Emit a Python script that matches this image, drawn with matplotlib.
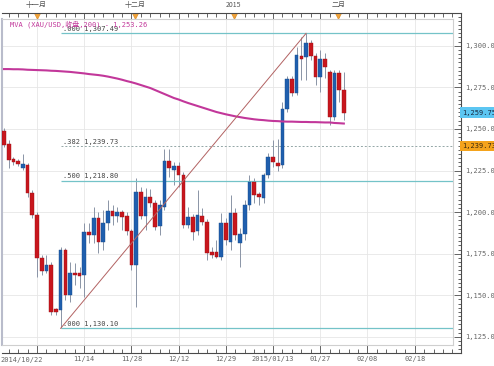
import matplotlib
matplotlib.use("Agg")
import matplotlib.pyplot as plt
import matplotlib.transforms as mtransforms
from matplotlib.ticker import FixedLocator, FuncFormatter, MultipleLocator
import numpy as np

# daily XAU/USD candles, 2014/10/22 .. 2015/02/03, one entry per trading day
opens = [1248.8, 1241.0, 1231.9, 1230.7, 1226.5, 1228.3, 1211.5, 1198.3, 1172.4, 1164.6,
         1168.2, 1141.8, 1141.2, 1177.2, 1150.2, 1163.4, 1163.4, 1162.2, 1188.0, 1186.2,
         1196.5, 1182.0, 1193.5, 1200.7, 1197.7, 1200.1, 1197.7, 1188.6, 1168.2, 1212.1,
         1197.7, 1209.1, 1205.5, 1191.6, 1203.1, 1230.7, 1225.3, 1227.7, 1222.3, 1192.3,
         1197.1, 1188.6, 1197.7, 1194.1, 1176.0, 1176.0, 1173.0, 1193.5, 1182.0, 1199.5,
         1181.4, 1186.8, 1204.3, 1218.1, 1210.9, 1208.5, 1222.3, 1233.1, 1229.5, 1228.3,
         1262.0, 1280.0, 1271.6, 1293.9, 1293.3, 1301.7, 1293.9, 1281.2, 1292.1, 1284.2,
         1257.2, 1283.6, 1273.4]
highs = [1250.6, 1243.4, 1233.1, 1232.0, 1234.9, 1229.5, 1213.3, 1200.1, 1174.2, 1174.2,
         1170.0, 1142.4, 1179.0, 1178.4, 1170.0, 1169.4, 1167.0, 1193.5, 1193.5, 1203.1,
         1200.1, 1201.3, 1207.3, 1204.3, 1203.1, 1201.3, 1200.1, 1189.8, 1220.5, 1215.1,
         1214.5, 1213.9, 1207.3, 1207.3, 1237.9, 1237.9, 1230.1, 1230.1, 1224.1, 1203.1,
         1199.0, 1213.3, 1202.5, 1195.9, 1179.0, 1183.2, 1199.5, 1196.5, 1210.3, 1202.5,
         1190.4, 1207.3, 1222.3, 1220.5, 1212.1, 1223.5, 1235.5, 1243.4, 1244.0, 1266.2,
         1282.0, 1281.8, 1299.3, 1305.3, 1307.49, 1303.5, 1295.7, 1297.5, 1295.7, 1285.4,
         1285.4, 1285.4, 1284.2]
lows = [1239.2, 1226.5, 1228.3, 1227.7, 1225.3, 1209.1, 1196.5, 1161.0, 1162.2, 1163.4,
        1138.1, 1138.1, 1130.1, 1147.2, 1146.0, 1156.2, 1154.4, 1149.0, 1181.4, 1181.4,
        1175.4, 1177.2, 1189.2, 1192.3, 1194.1, 1189.2, 1186.2, 1165.2, 1143.0, 1195.9,
        1189.2, 1203.1, 1189.2, 1186.2, 1201.3, 1221.1, 1216.3, 1215.1, 1190.4, 1190.4,
        1183.2, 1186.2, 1192.3, 1171.2, 1172.4, 1172.4, 1171.2, 1180.2, 1177.2, 1183.2,
        1167.0, 1183.2, 1201.3, 1205.5, 1204.3, 1205.5, 1220.5, 1227.1, 1224.7, 1226.5,
        1260.0, 1269.8, 1270.4, 1279.4, 1279.4, 1291.5, 1276.4, 1272.2, 1280.6, 1252.4,
        1255.4, 1266.2, 1255.4]
closes = [1240.4, 1231.3, 1230.1, 1228.9, 1228.9, 1211.5, 1198.3, 1172.4, 1164.6, 1168.2,
          1140.0, 1140.0, 1177.2, 1150.2, 1163.4, 1162.2, 1161.6, 1188.0, 1186.2, 1196.5,
          1182.0, 1193.5, 1200.7, 1197.7, 1200.1, 1197.1, 1188.6, 1168.2, 1212.1, 1197.7,
          1209.1, 1205.5, 1191.0, 1204.3, 1230.7, 1226.5, 1227.7, 1222.3, 1192.3, 1197.1,
          1188.0, 1198.3, 1194.1, 1175.4, 1174.2, 1173.0, 1193.5, 1183.2, 1199.5, 1186.2,
          1186.8, 1204.3, 1218.1, 1210.3, 1209.1, 1222.3, 1233.1, 1230.1, 1227.7, 1262.0,
          1280.0, 1271.6, 1294.5, 1292.1, 1301.7, 1293.9, 1281.2, 1292.1, 1287.3, 1257.2,
          1283.6, 1273.4, 1259.75]
ma200 = [1286.0, 1286.0, 1285.9, 1285.9, 1285.8, 1285.6, 1285.5, 1285.4, 1285.3, 1285.2,
         1285.0, 1284.9, 1284.7, 1284.5, 1284.3, 1284.0, 1283.7, 1283.4, 1283.0, 1282.7,
         1282.4, 1282.0, 1281.5, 1280.9, 1280.3, 1279.6, 1278.8, 1278.1, 1277.3, 1276.4,
         1275.5, 1274.6, 1273.4, 1272.2, 1271.0, 1269.8, 1268.6, 1267.7, 1266.6, 1265.6,
         1264.7, 1263.8, 1262.9, 1262.0, 1261.1, 1260.2, 1259.5, 1258.8, 1258.2, 1257.6,
         1257.1, 1256.6, 1256.2, 1255.8, 1255.5, 1255.3, 1255.0, 1254.8, 1254.7, 1254.5,
         1254.4, 1254.4, 1254.3, 1254.2, 1254.2, 1254.1, 1254.1, 1254.0, 1253.9, 1253.9,
         1253.6, 1253.45, 1253.26]

date_ticks = [7, 17, 27, 37, 47, 57, 67, 77, 87]
date_labels = ["", "11/14", "11/28", "12/12", "12/29", "2015/01/13", "01/27", "02/08", "02/18"]
first_date = "2014/10/22"
month_marks = [6.9, 27.8, 48.7, 70.8]
month_labels = ["十一月", "十二月", "2015", "二月"]

fib_low, fib_high = 1130.10, 1307.49
fib_start, fib_end = 12, 64
fib_ratios = [1.0, 0.382, 0.5, 0.0]
ma_label = "MVA (XAU/USD,收盘,200) - 1,253.26"
last_price = 1259.75

# pixel geometry of the reference (494x366)
W, H = 494, 366
BAR0_X, BAR_DX = 4.0, 4.72
Y1300, PX_PER_USD = 45.8, 1.663

MONO = ["DejaVu Sans Mono", "Noto Sans CJK SC"]
CJK = ["Noto Sans CJK SC", "DejaVu Sans"]
RED, BLUE = "#c8161d", "#1f5fae"


def bar_at(x):
    return (x - BAR0_X) / BAR_DX


def price_at(y):
    return 1300 - (y - Y1300) / PX_PER_USD


def rect(x0, y0, x1, y1):
    return [x0 / W, 1 - y1 / H, (x1 - x0) / W, (y1 - y0) / H]


fig = plt.figure(figsize=(W / 100, H / 100), dpi=100)

# outer ruler frame
outer = fig.add_axes(rect(2, 13, 461, 353))
outer.set_xlim(bar_at(2), bar_at(461))
outer.set_ylim(price_at(353), price_at(13))
outer.patch.set_visible(False)
outer.spines["left"].set_visible(False)
for side in ("top", "bottom", "right"):
    outer.spines[side].set_color("#4a4a4a")
    outer.spines[side].set_linewidth(0.8)
outer.yaxis.set_major_locator(MultipleLocator(25))
outer.yaxis.set_minor_locator(MultipleLocator(2.5))
outer.yaxis.set_major_formatter(FuncFormatter(lambda v, _: f"{v:,.2f}"))
outer.tick_params(axis="y", which="both", direction="in", left=False, right=True,
                  labelleft=False, labelright=True, colors="#4a4a4a", labelcolor="#666666",
                  labelsize=5, pad=3, width=0.6)
outer.tick_params(axis="y", which="major", length=5)
outer.tick_params(axis="y", which="minor", length=2.5)
outer.xaxis.set_major_locator(FixedLocator(date_ticks))
outer.xaxis.set_minor_locator(FixedLocator(np.arange(1, 97, 2)))
outer.set_xticklabels(date_labels)
outer.tick_params(axis="x", which="both", direction="in", top=True, bottom=True,
                  colors="#4a4a4a", labelcolor="#666666", labelsize=5, pad=2, width=0.6)
outer.tick_params(axis="x", which="major", length=6)
outer.tick_params(axis="x", which="minor", length=3)
for lab in outer.get_xticklabels() + outer.get_yticklabels():
    lab.set_family(MONO)
fig.text(0.5 / W, 1 - 360 / H, first_date, ha="left", va="center",
         fontsize=5, color="#666666", family=MONO)

# month markers on the top ruler
top_tf = mtransforms.blended_transform_factory(outer.transData, outer.transAxes)
outer.plot(month_marks, [1 - 2.5 / 340] * len(month_marks), "v", color="#f2a33a",
           ms=4.5, mec="#d98a20", mew=0.4, transform=top_tf, clip_on=False)
for m, lab in zip(month_marks, month_labels):
    outer.text(m, 1 + 8.5 / 340, lab, transform=top_tf, ha="center", va="center",
               fontsize=5, color="#555555", family=CJK)

# price boxes on the right ruler
right_tf = mtransforms.blended_transform_factory(outer.transAxes, outer.transData)
fib_levels = [fib_high - r * (fib_high - fib_low) for r in fib_ratios]
outer.text(1.003, last_price, f"{last_price:,.2f}", transform=right_tf, ha="left",
           va="center", fontsize=5, family=MONO, color="#1a2a40", zorder=5,
           bbox=dict(boxstyle="square,pad=0.35", fc="#5cc6f2", ec="none"))
outer.text(1.003, fib_levels[1], f"{fib_levels[1]:,.2f}", transform=right_tf, ha="left",
           va="center", fontsize=5, family=MONO, color="#3a2a10", zorder=5,
           bbox=dict(boxstyle="square,pad=0.35", fc="#f4a31c", ec="none"))

# inner plot area
ax = fig.add_axes(rect(2, 19, 453, 345))
ax.set_xlim(bar_at(2), bar_at(453))
ax.set_ylim(price_at(345), price_at(19))
ax.set_xticks(date_ticks)
ax.set_yticks(np.arange(1125, 1301, 25))
ax.tick_params(length=0, labelbottom=False, labelleft=False)
ax.grid(color="#e6e6e6", lw=0.6)
ax.set_axisbelow(True)
for side in ("top", "bottom", "right"):
    ax.spines[side].set_color("#cfcfcf")
    ax.spines[side].set_linewidth(0.8)
ax.spines["left"].set_color("#b9bccb")
ax.spines["left"].set_linewidth(1.5)

x = np.arange(len(opens))
o = np.array(opens)
c = np.array(closes)
up = c >= o
body_lo = np.minimum(o, c)
body_h = np.maximum(np.abs(c - o), 0.6)
colors = np.where(up, BLUE, RED)
edges = np.where(up, "#174a8a", "#9c1016")
ax.vlines(x, lows, highs, color="#8a94a6", lw=0.7, zorder=2)
ax.bar(x, body_h, 0.78, bottom=body_lo, color=colors, edgecolor=edges, lw=0.3, zorder=3)

ax.plot(x, ma200, color="#c2379a", lw=1.5, zorder=4)

# fibonacci retracement
xmax = ax.get_xlim()[1]
for r, lvl in zip(fib_ratios, fib_levels):
    if r == 0.382:
        ax.hlines(lvl, fib_start, xmax, color="#93a6a6", lw=0.7, linestyles=(0, (2, 2)), zorder=2)
    else:
        ax.hlines(lvl, fib_start, xmax, color="#74c3c8", lw=0.9, zorder=2)
    ax.annotate(f"{r:.3f}"[1:] + f" {lvl:,.2f}", (fib_start + 0.6, lvl), xytext=(0, 1),
                textcoords="offset points", ha="left", va="bottom", fontsize=5,
                family=MONO, color="#444444", zorder=5)
ax.plot([fib_start, fib_end], [fib_low, fib_high], color="#b26262", lw=0.7, zorder=4)

fig.text(10 / W, 1 - 24.5 / H, ma_label, ha="left", va="center", fontsize=5,
         color="#c2379a", family=MONO)

fig.savefig("out.png", dpi=100)
